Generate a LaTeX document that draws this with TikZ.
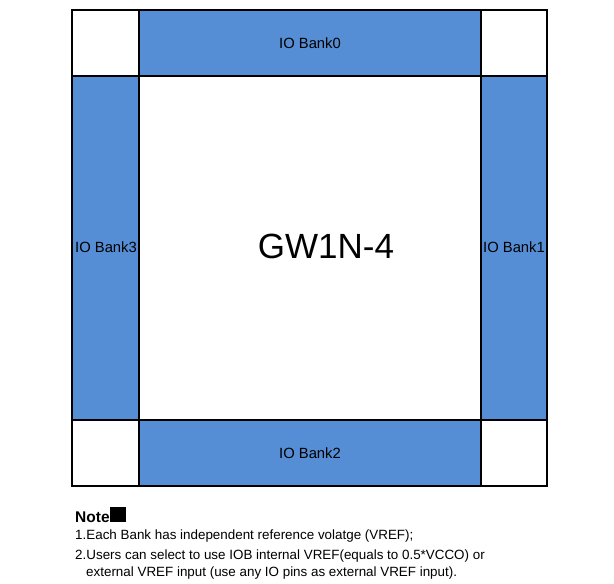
\documentclass[tikz,border=0pt]{standalone}
\usepackage{fontspec}
\setmainfont{Liberation Sans}
\definecolor{bankblue}{HTML}{558ED5}
\begin{document}
\begin{tikzpicture}[x=1pt,y=-1pt,
  bank/.style={draw=black,line width=1.2pt,fill=bankblue},
  cell/.style={draw=black,line width=1.2pt,fill=white},
  lbl/.style={font=\fontsize{14.8}{17}\selectfont,inner sep=0pt},
  note/.style={font=\fontsize{13.4}{16}\selectfont,anchor=west,inner sep=0pt}]
\useasboundingbox (0,0) rectangle (614,584);
\draw[cell] (72,10) rectangle (139,76);
\draw[cell] (481,10) rectangle (547,76);
\draw[cell] (72,420) rectangle (139,486);
\draw[cell] (481,420) rectangle (547,486);
\draw[bank] (139,10) rectangle (481,76);
\draw[bank] (139,420) rectangle (481,486);
\draw[bank] (72,76) rectangle (139,420);
\draw[bank] (481,76) rectangle (547,420);
\draw[cell] (139,76) rectangle (481,420);
\node[lbl] (b0) at (310,43) {IO Bank0};
\node[lbl] (b2) at (310,453) {IO Bank2};
\node[lbl] (b3) at (106,247) {IO Bank3};
\node[lbl] (b1) at (514,247) {IO Bank1};
\node[inner sep=0pt,font=\fontsize{35}{40}\selectfont] (chip) at (326,246) {GW1N-4};
\node[note,font=\fontsize{15.5}{18}\selectfont\bfseries] (n0) at (75,515) {Note\rule{16pt}{15pt}};
\node[note] (n1) at (75,536) {1.Each Bank has independent reference volatge (VREF);};
\node[note] (n2) at (75,556) {2.Users can select to use IOB internal VREF(equals to 0.5*VCCO) or};
\node[note] (n3) at (86,573) {external VREF input (use any IO pins as external VREF input).};
\end{tikzpicture}
\end{document}
